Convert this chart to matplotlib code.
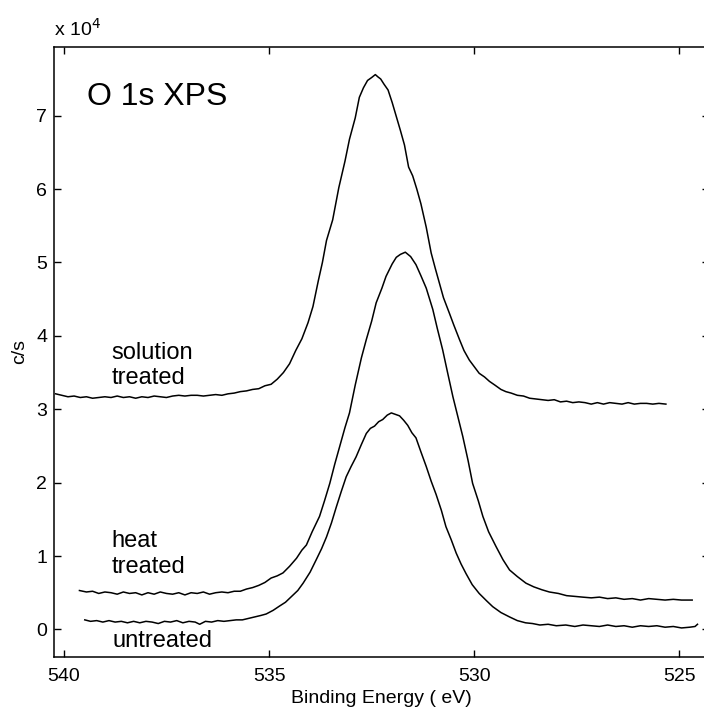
import numpy as np
import matplotlib
matplotlib.use("Agg")
import matplotlib.pyplot as plt
from matplotlib.ticker import FuncFormatter

plt.rcParams['font.family'] = ['Liberation Sans', 'DejaVu Sans']

# O 1s spectra (binding energy in eV, counts in units of 1e4 c/s)
sol_x = [540.20, 540.05, 539.90, 539.75, 539.60, 539.45, 539.30, 539.15, 539.00, 538.85,
         538.70, 538.55, 538.40, 538.25, 538.10, 537.95, 537.80, 537.65, 537.50, 537.35,
         537.20, 537.05, 536.90, 536.75, 536.60, 536.45, 536.30, 536.15, 536.00, 535.85,
         535.70, 535.55, 535.40, 535.25, 535.10, 534.95, 534.80, 534.65, 534.50, 534.35,
         534.20, 534.05, 533.93, 533.80, 533.70, 533.60, 533.45, 533.30, 533.15, 533.04,
         532.90, 532.80, 532.70, 532.60, 532.50, 532.41, 532.35, 532.28, 532.20, 532.10,
         532.00, 531.90, 531.80, 531.70, 531.60, 531.50, 531.40, 531.30, 531.17, 531.05,
         530.95, 530.85, 530.75, 530.60, 530.50, 530.36, 530.25, 530.12, 530.00, 529.88,
         529.75, 529.63, 529.50, 529.35, 529.23, 529.10, 528.95, 528.80, 528.65, 528.50,
         528.35, 528.20, 528.05, 527.90, 527.75, 527.60, 527.45, 527.30, 527.15, 527.00,
         526.85, 526.70, 526.55, 526.40, 526.25, 526.10, 525.95, 525.80, 525.65, 525.50,
         525.33]
sol_y = [3.21, 3.19, 3.17, 3.18, 3.16, 3.17, 3.15, 3.16, 3.17, 3.16,
         3.18, 3.16, 3.17, 3.15, 3.17, 3.16, 3.18, 3.17, 3.16, 3.18,
         3.19, 3.18, 3.19, 3.19, 3.18, 3.19, 3.20, 3.19, 3.21, 3.22,
         3.24, 3.25, 3.27, 3.28, 3.32, 3.34, 3.41, 3.50, 3.62, 3.80,
         3.96, 4.18, 4.40, 4.75, 5.00, 5.30, 5.58, 6.02, 6.38, 6.68,
         6.97, 7.25, 7.38, 7.48, 7.52, 7.56, 7.53, 7.50, 7.43, 7.35,
         7.18, 6.99, 6.80, 6.60, 6.30, 6.18, 6.00, 5.80, 5.48, 5.13,
         4.92, 4.72, 4.52, 4.30, 4.15, 3.95, 3.80, 3.67, 3.58, 3.49,
         3.44, 3.38, 3.33, 3.27, 3.24, 3.22, 3.19, 3.18, 3.15, 3.14,
         3.13, 3.12, 3.13, 3.10, 3.11, 3.09, 3.10, 3.09, 3.07, 3.09,
         3.07, 3.09, 3.08, 3.07, 3.09, 3.07, 3.08, 3.08, 3.07, 3.08,
         3.07]

heat_x = [539.62, 539.45, 539.30, 539.15, 539.00, 538.85, 538.70, 538.55, 538.40, 538.25,
          538.10, 537.95, 537.80, 537.65, 537.50, 537.35, 537.20, 537.05, 536.90, 536.75,
          536.60, 536.45, 536.30, 536.15, 536.00, 535.85, 535.70, 535.55, 535.40, 535.25,
          535.10, 534.95, 534.80, 534.66, 534.50, 534.33, 534.20, 534.09, 533.95, 533.77,
          533.65, 533.52, 533.40, 533.28, 533.15, 533.04, 532.90, 532.75, 532.63, 532.50,
          532.39, 532.25, 532.15, 532.00, 531.90, 531.80, 531.68, 531.55, 531.42, 531.30,
          531.17, 531.01, 530.90, 530.77, 530.65, 530.52, 530.40, 530.28, 530.15, 530.04,
          529.90, 529.79, 529.65, 529.47, 529.30, 529.14, 528.95, 528.74, 528.55, 528.35,
          528.17, 527.95, 527.75, 527.55, 527.36, 527.15, 526.95, 526.75, 526.55, 526.35,
          526.15, 525.95, 525.75, 525.55, 525.35, 525.15, 524.95, 524.69]
heat_y = [0.53, 0.51, 0.52, 0.49, 0.51, 0.50, 0.48, 0.51, 0.49, 0.50,
          0.47, 0.50, 0.48, 0.51, 0.49, 0.48, 0.50, 0.47, 0.50, 0.49,
          0.51, 0.48, 0.50, 0.51, 0.50, 0.52, 0.52, 0.55, 0.57, 0.60,
          0.64, 0.70, 0.73, 0.77, 0.86, 0.97, 1.08, 1.15, 1.33, 1.54,
          1.75, 1.99, 2.25, 2.49, 2.75, 2.95, 3.33, 3.70, 3.95, 4.20,
          4.45, 4.65, 4.81, 4.98, 5.07, 5.11, 5.14, 5.08, 4.97, 4.82,
          4.65, 4.36, 4.10, 3.81, 3.50, 3.17, 2.90, 2.63, 2.30, 1.99,
          1.75, 1.54, 1.33, 1.13, 0.95, 0.81, 0.72, 0.63, 0.58, 0.54,
          0.51, 0.49, 0.46, 0.45, 0.44, 0.43, 0.44, 0.42, 0.43, 0.41,
          0.42, 0.40, 0.42, 0.41, 0.40, 0.41, 0.40, 0.40]

un_x = [539.49, 539.35, 539.20, 539.05, 538.90, 538.75, 538.60, 538.45, 538.30, 538.15,
        538.00, 537.85, 537.70, 537.55, 537.40, 537.25, 537.10, 536.95, 536.80, 536.69,
        536.55, 536.40, 536.25, 536.10, 535.95, 535.80, 535.65, 535.50, 535.35, 535.20,
        535.07, 534.90, 534.74, 534.60, 534.45, 534.30, 534.17, 534.00, 533.85, 533.72,
        533.60, 533.48, 533.36, 533.24, 533.12, 533.00, 532.88, 532.75, 532.63, 532.53,
        532.43, 532.33, 532.23, 532.12, 532.02, 531.92, 531.82, 531.72, 531.62, 531.52,
        531.42, 531.30, 531.17, 531.05, 530.93, 530.80, 530.69, 530.56, 530.44, 530.32,
        530.20, 530.05, 529.88, 529.70, 529.55, 529.35, 529.14, 528.95, 528.75, 528.58,
        528.40, 528.20, 528.00, 527.77, 527.55, 527.35, 527.15, 526.95, 526.75, 526.55,
        526.35, 526.15, 525.95, 525.75, 525.55, 525.35, 525.15, 524.95, 524.75, 524.62,
        524.56]
un_y = [0.13, 0.11, 0.12, 0.10, 0.12, 0.10, 0.11, 0.09, 0.11, 0.09,
        0.11, 0.10, 0.08, 0.11, 0.10, 0.12, 0.09, 0.11, 0.10, 0.07,
        0.11, 0.10, 0.12, 0.11, 0.12, 0.13, 0.13, 0.15, 0.17, 0.19,
        0.21, 0.26, 0.32, 0.37, 0.45, 0.53, 0.63, 0.78, 0.95, 1.10,
        1.26, 1.45, 1.67, 1.88, 2.08, 2.22, 2.35, 2.52, 2.67, 2.74,
        2.77, 2.83, 2.86, 2.92, 2.95, 2.93, 2.91, 2.85, 2.78, 2.68,
        2.61, 2.42, 2.22, 2.02, 1.84, 1.62, 1.40, 1.22, 1.04, 0.89,
        0.76, 0.61, 0.49, 0.39, 0.31, 0.23, 0.17, 0.12, 0.09, 0.08,
        0.06, 0.07, 0.05, 0.06, 0.04, 0.06, 0.05, 0.04, 0.06, 0.04,
        0.05, 0.03, 0.05, 0.04, 0.05, 0.03, 0.04, 0.02, 0.03, 0.04,
        0.07]

xticks = [540, 535, 530, 525]
yticks = [0, 1, 2, 3, 4, 5, 6, 7]

scale = 1e4

fig = plt.figure(figsize=(7.04, 7.15), dpi=100)
ax = fig.add_axes([54/704, 1-657.3/715, (709-54)/704, (657.3-46.7)/715])

for xs, ys in [(sol_x, sol_y), (heat_x, heat_y), (un_x, un_y)]:
    ax.plot(xs, np.array(ys)*scale, color='k', lw=1.1)

ax.set_xlim(540.24, 524.28)
ax.set_ylim(-0.38*scale, 7.94*scale)
ax.set_xticks(xticks)
ax.set_yticks([t*scale for t in yticks])
ax.yaxis.set_major_formatter(FuncFormatter(lambda v, p: '%d' % round(v/scale)))

ax.tick_params(direction='in', length=5, width=1, top=True, right=True, labelsize=14)
ax.tick_params(axis='x', pad=8)
ax.tick_params(axis='y', pad=5)
for s in ax.spines.values():
    s.set_linewidth(1.1)

ax.set_xlabel('Binding Energy ( eV)', fontsize=14, labelpad=3)
ax.set_ylabel('c/s', fontsize=14, labelpad=6)

fig.text(54/704, 1-36/715, 'x 10$^{4}$', fontsize=14, ha='left', va='baseline')

ax.text(539.44, 7.25*scale, 'O 1s XPS', fontsize=23, ha='left', va='center')
ax.text(538.84, 3.60*scale, 'solution\ntreated', fontsize=17, ha='left', va='center')
ax.text(538.84, 1.03*scale, 'heat\ntreated', fontsize=17, ha='left', va='center')
ax.text(538.81, -0.16*scale, 'untreated', fontsize=17, ha='left', va='center')

fig.savefig('out.png', dpi=100)
